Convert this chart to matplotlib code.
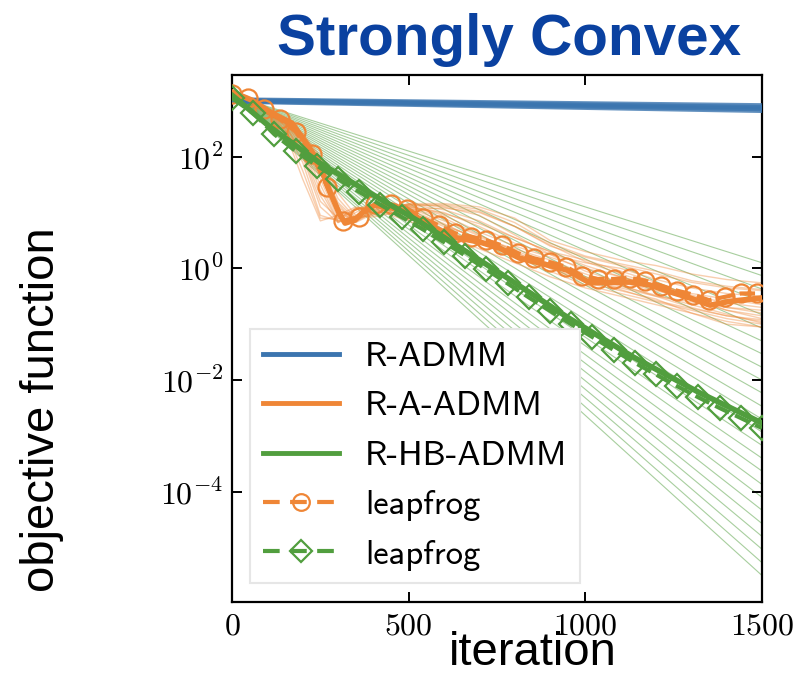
import os
import numpy as np
import matplotlib
matplotlib.use("Agg")
import matplotlib.pyplot as plt
from matplotlib import font_manager
from matplotlib.lines import Line2D
from matplotlib.ticker import FixedLocator, FuncFormatter, NullLocator

plt.rcParams['mathtext.fontset'] = 'cm'

# ---------- data (log10 of objective) ----------
blue_iter = [0, 1500]
blue_runs = [[3.02, 2.915], [3.01, 2.885], [3.00, 2.855], [2.99, 2.825]]

orange_iter = [0, 57, 113, 170, 218, 246, 275, 303, 320, 348, 376, 405, 453, 504,
               560, 625, 702, 758, 815, 872, 948, 1013, 1126, 1183, 1240, 1296,
               1353, 1409, 1500]
orange_log = [3.16, 3.01, 2.78, 2.60, 2.17, 1.885, 1.40, 0.99, 0.81, 0.865, 1.04,
              1.13, 1.08, 0.99, 0.775, 0.56, 0.47, 0.36, 0.18, 0.095, -0.03, -0.26,
              -0.245, -0.30, -0.42, -0.53, -0.66, -0.59, -0.53]

# thin R-A-ADMM runs
orange_run_iter = [0, 100, 150, 200, 250, 300, 350, 400, 500, 600, 700, 800, 900,
                   1000, 1100, 1200, 1300, 1400, 1500]
orange_runs = [
    [3.16, 2.75, 2.45, 1.60, 0.85, 0.95, 1.10, 1.05, 0.85, 0.60, 0.35, 0.10, -0.15, -0.35, -0.50, -0.65, -0.80, -0.95, -1.05],
    [3.16, 2.78, 2.50, 1.90, 0.95, 0.85, 1.05, 1.10, 0.95, 0.70, 0.45, 0.20, -0.05, -0.30, -0.45, -0.60, -0.75, -0.90, -1.00],
    [3.16, 2.78, 2.55, 2.10, 1.30, 0.82, 0.95, 1.12, 1.10, 0.90, 0.60, 0.30, 0.00, -0.20, -0.35, -0.50, -0.70, -0.85, -0.95],
    [3.16, 2.78, 2.60, 2.25, 1.60, 0.90, 0.85, 1.05, 1.15, 1.10, 0.95, 0.60, 0.25, -0.05, -0.25, -0.40, -0.55, -0.75, -0.85],
    [3.16, 2.78, 2.62, 2.35, 1.80, 1.10, 0.85, 1.00, 1.16, 1.16, 1.10, 0.90, 0.50, 0.30, 0.15, 0.05, -0.10, -0.20, -0.26],
    [3.16, 2.78, 2.62, 2.40, 1.95, 1.25, 0.90, 0.95, 1.10, 1.00, 0.75, 0.45, 0.25, 0.10, 0.00, -0.20, -0.35, -0.45, -0.50],
    [3.16, 2.78, 2.60, 2.20, 1.50, 0.85, 0.90, 1.10, 1.05, 0.80, 0.50, 0.25, 0.00, -0.25, -0.40, -0.55, -0.80, -1.00, -1.05],
    [3.16, 2.78, 2.58, 2.00, 1.10, 0.82, 1.00, 1.15, 1.00, 0.75, 0.55, 0.35, 0.15, -0.10, -0.30, -0.50, -0.60, -0.70, -0.80],
    [3.16, 2.78, 2.60, 2.30, 1.70, 1.00, 0.85, 1.05, 1.12, 0.95, 0.65, 0.40, 0.20, 0.00, -0.15, -0.30, -0.45, -0.55, -0.65],
    [3.16, 2.78, 2.62, 2.38, 1.90, 1.15, 0.82, 0.98, 1.14, 1.05, 0.85, 0.55, 0.30, 0.15, -0.05, -0.25, -0.50, -0.70, -0.75],
    [3.16, 2.78, 2.55, 2.05, 1.20, 0.90, 1.05, 1.15, 1.12, 0.98, 0.80, 0.55, 0.30, 0.05, -0.15, -0.35, -0.55, -0.75, -0.90],
    [3.16, 2.78, 2.62, 2.42, 2.00, 1.35, 0.95, 0.92, 1.05, 1.08, 1.00, 0.75, 0.40, 0.20, 0.05, -0.10, -0.25, -0.35, -0.40],
    [3.16, 2.77, 2.48, 1.75, 0.90, 0.88, 1.08, 1.12, 1.00, 0.78, 0.52, 0.28, 0.05, -0.18, -0.38, -0.58, -0.72, -0.85, -0.92],
    [3.16, 2.78, 2.61, 2.33, 1.75, 1.05, 0.83, 1.02, 1.15, 1.12, 1.02, 0.75, 0.42, 0.12, -0.10, -0.30, -0.48, -0.62, -0.70],
    [3.16, 2.78, 2.59, 2.15, 1.40, 0.84, 0.92, 1.12, 1.08, 0.85, 0.58, 0.32, 0.08, -0.15, -0.32, -0.48, -0.65, -0.82, -0.98],
    [3.16, 2.78, 2.62, 2.36, 1.85, 1.18, 0.88, 0.98, 1.13, 1.14, 1.06, 0.82, 0.45, 0.22, 0.08, -0.05, -0.22, -0.32, -0.38],
]

green_iter = [0, 108, 249, 390, 532, 758, 948, 1135, 1324, 1500]
green_log = [3.10, 2.53, 1.885, 1.35, 0.83, -0.084, -0.87, -1.585, -2.23, -2.77]

# thin R-HB-ADMM runs: start and end value of each straight run
green_run_iter = [0, 1500]
green_run_start = 3.10
green_run_end = [0.10, -0.13, -0.37, -0.60, -0.83, -1.07, -1.30, -1.53, -1.77, -2.00,
                 -2.23, -2.47, -2.70, -2.93, -3.17, -3.40, -3.63, -3.87, -4.10, -4.33,
                 -4.57, -4.80, -5.03, -5.27, -5.50]

# leapfrog curves (one value per marker)
lf_orange_iter = list(range(0, 1500, 45))
lf_orange_log = [3.12, 3.05, 2.85, 2.68, 2.45, 2.05, 1.45, 0.85, 0.92, 1.15, 1.15,
                 1.07, 0.90, 0.77, 0.63, 0.57, 0.50, 0.41, 0.27, 0.18, 0.11, 0.03,
                 -0.13, -0.19, -0.19, -0.17, -0.22, -0.31, -0.40, -0.47, -0.57,
                 -0.51, -0.45, -0.45]
lf_green_iter = list(range(0, 1501, 60))
lf_green_log = [3.05, 2.78, 2.40, 2.10, 1.84, 1.60, 1.37, 1.14, 0.92, 0.70, 0.47,
                0.23, -0.02, -0.27, -0.52, -0.76, -1.00, -1.23, -1.46, -1.69, -1.90,
                -2.11, -2.31, -2.50, -2.68, -2.86]

labels = ['R-ADMM', 'R-A-ADMM', 'R-HB-ADMM', 'leapfrog', 'leapfrog']

c_blue = '#3b75af'
c_orange = '#ef8636'
c_green = '#519e3e'

# ---------- figure ----------
fig = plt.figure(figsize=(7.96, 6.76), dpi=100)
ax = fig.add_axes([232 / 796, 1 - 602 / 676, 530 / 796, 527 / 676])
ax.set_yscale('log')

for end in green_run_end:
    ax.plot(green_run_iter, 10 ** np.array([green_run_start, end]), color=c_green,
            lw=0.8, alpha=0.5, zorder=1)
for run in orange_runs:
    ax.plot(orange_run_iter, 10 ** np.array(run), color=c_orange, lw=1.0,
            alpha=0.4, zorder=2)
for run in blue_runs:
    ax.plot(blue_iter, 10 ** np.array(run), color=c_blue, lw=3.5, alpha=0.8,
            zorder=3)

ax.plot(orange_iter, 10 ** np.array(orange_log), color=c_orange, lw=4, zorder=4)
ax.plot(green_iter, 10 ** np.array(green_log), color=c_green, lw=4, zorder=5)
ax.plot(lf_orange_iter, 10 ** np.array(lf_orange_log), color=c_orange, lw=3,
        ls='--', marker='o', ms=13, mfc='none', mew=1.6, zorder=4)
ax.plot(lf_green_iter, 10 ** np.array(lf_green_log), color=c_green, lw=3,
        ls='--', marker='D', ms=12, mfc='none', mew=1.6, zorder=5)

ax.set_xlim(0, 1500)
ax.set_ylim(1.06e-6, 2.9e3)

ax.xaxis.set_major_locator(FixedLocator([0, 500, 1000, 1500]))
ax.xaxis.set_major_formatter(FuncFormatter(lambda v, p: r'$%d$' % v))
ax.yaxis.set_major_locator(FixedLocator([1e-4, 1e-2, 1e0, 1e2]))
ax.yaxis.set_major_formatter(FuncFormatter(lambda v, p: r'$10^{%d}$' % round(np.log10(v))))
ax.yaxis.set_minor_locator(NullLocator())
ax.tick_params(direction='in', length=7, width=1.4, top=True, right=True,
               labelsize=23, pad=6)
for s in ax.spines.values():
    s.set_linewidth(1.6)

# legend
cmss = font_manager.FontProperties(
    fname=os.path.join(matplotlib.get_data_path(), 'fonts', 'ttf', 'cmss10.ttf'), size=25)
handles = [
    Line2D([], [], color=c_blue, lw=3.5),
    Line2D([], [], color=c_orange, lw=3.5),
    Line2D([], [], color=c_green, lw=3.5),
    Line2D([], [], color=c_orange, lw=3, dashes=(4, 2.5), marker='o', ms=12,
           mfc='none', mew=1.6),
    Line2D([], [], color=c_green, lw=3, dashes=(4, 2.5), marker='D', ms=11,
           mfc='none', mew=1.6),
]
leg = ax.legend(handles, labels, prop=cmss, loc='lower left',
                bbox_to_anchor=(0.034, 0.036), borderaxespad=0, handlelength=2.2,
                handletextpad=0.75, labelspacing=0.52, borderpad=0.36,
                fancybox=False, framealpha=1)
leg.get_frame().set_edgecolor('#e6e6e6')
leg.get_frame().set_linewidth(1.5)
leg.set_zorder(10)

fig.text(509 / 796, 1 - 55 / 676, 'Strongly Convex', fontsize=42,
         fontweight='bold', family='Liberation Sans', color='#0a41a0',
         ha='center', va='baseline')
fig.text(42 / 796, 1 - 410 / 676, 'objective function', fontsize=34,
         family='Liberation Sans', rotation=90, ha='center', va='center')
fig.text(533 / 796, 0.002, 'iteration', fontsize=34,
         family='Liberation Sans', ha='center', va='bottom')

fig.savefig('out.png', dpi=100)
